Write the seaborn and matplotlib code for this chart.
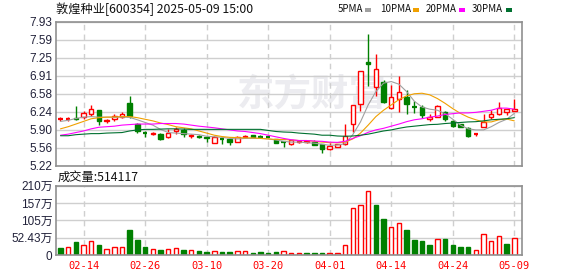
import numpy as np
import pandas as pd
import matplotlib
matplotlib.use("Agg")
import matplotlib.pyplot as plt
import seaborn as sns

# ---------------- data ----------------
dates = ["02-11", "02-12", "02-13", "02-14", "02-17", "02-18", "02-19", "02-20", "02-21", "02-24",
         "02-25", "02-26", "02-27", "02-28", "03-03", "03-04", "03-05", "03-06", "03-07", "03-10",
         "03-11", "03-12", "03-13", "03-14", "03-17", "03-18", "03-19", "03-20", "03-21", "03-24",
         "03-25", "03-26", "03-27", "03-28", "03-31", "04-01", "04-02", "04-03", "04-07", "04-08",
         "04-09", "04-10", "04-11", "04-14", "04-15", "04-16", "04-17", "04-18", "04-21", "04-22",
         "04-23", "04-24", "04-25", "04-28", "04-29", "04-30", "05-06", "05-07", "05-08", "05-09"]

opens = [6.09, 6.09, 6.12, 6.13, 6.18, 6.26, 6.05, 6.09, 6.13, 6.40,
         6.00, 5.835, 5.81, 5.82, 5.75, 5.86, 5.89, 5.77, 5.78, 5.76,
         5.65, 5.72, 5.71, 5.67, 5.75, 5.79, 5.77, 5.76, 5.71, 5.67,
         5.63, 5.66, 5.66, 5.66, 5.62, 5.53, 5.57, 5.62, 6.01, 6.38,
         7.17, 6.70, 6.80, 6.30, 6.48, 6.51, 6.33, 6.33, 6.09, 6.14,
         6.22, 6.06, 5.995, 5.93, 5.81, 5.95, 6.14, 6.18, 6.23, 6.25]
highs = [6.14, 6.13, 6.34, 6.25, 6.35, 6.26, 6.09, 6.18, 6.22, 6.53,
         6.02, 5.87, 5.85, 5.84, 5.91, 5.94, 5.93, 5.81, 5.80, 5.78,
         5.77, 5.76, 5.75, 5.78, 5.79, 5.80, 5.80, 5.78, 5.72, 5.69,
         5.70, 5.69, 5.69, 5.70, 5.62, 5.64, 5.62, 6.00, 6.36, 6.99,
         7.69, 7.31, 6.83, 6.735, 6.905, 6.64, 6.43, 6.36, 6.18, 6.35,
         6.24, 6.08, 6.00, 5.95, 5.83, 6.18, 6.26, 6.41, 6.28, 6.47]
lows = [6.06, 6.05, 6.08, 6.10, 6.16, 5.99, 6.02, 6.05, 6.11, 6.11,
        5.83, 5.75, 5.80, 5.70, 5.74, 5.82, 5.75, 5.74, 5.73, 5.67,
        5.64, 5.62, 5.60, 5.66, 5.74, 5.75, 5.73, 5.73, 5.65, 5.57,
        5.60, 5.64, 5.65, 5.60, 5.46, 5.52, 5.56, 5.61, 5.85, 6.245,
        6.72, 6.53, 6.40, 6.28, 6.22, 6.18, 6.20, 6.12, 6.06, 6.13,
        6.06, 5.95, 5.95, 5.75, 5.77, 5.94, 6.09, 6.17, 6.17, 6.24]
closes = [6.10, 6.10, 6.10, 6.21, 6.29, 6.05, 6.08, 6.16, 6.18, 6.15,
          5.86, 5.83, 5.84, 5.72, 5.83, 5.91, 5.82, 5.80, 5.75, 5.73,
          5.75, 5.71, 5.67, 5.75, 5.78, 5.76, 5.76, 5.75, 5.65, 5.66,
          5.70, 5.68, 5.68, 5.61, 5.53, 5.59, 5.62, 5.77, 6.35, 6.99,
          7.13, 7.04, 6.41, 6.50, 6.60, 6.37, 6.32, 6.17, 6.14, 6.34,
          6.095, 5.97, 5.95, 5.78, 5.82, 6.04, 6.18, 6.30, 6.28, 6.28]

ma5 = [6.05, 6.07, 6.105, 6.13, 6.14, 6.13, 6.13, 6.125, 6.13, 6.125,
       6.08, 6.03, 5.98, 5.90, 5.84, 5.83, 5.82, 5.81, 5.80, 5.77,
       5.76, 5.75, 5.73, 5.72, 5.73, 5.73, 5.73, 5.72, 5.70, 5.675,
       5.66, 5.66, 5.65, 5.64, 5.62, 5.60, 5.605, 5.63, 5.80, 6.04,
       6.36, 6.61, 6.77, 6.80, 6.75, 6.61, 6.43, 6.32, 6.28, 6.26,
       6.195, 6.09, 5.98, 5.91, 5.89, 5.89, 5.95, 6.03, 6.09, 6.20]
ma10 = [5.91, 5.95, 6.00, 6.05, 6.10, 6.12, 6.13, 6.135, 6.14, 6.14,
        6.12, 6.09, 6.06, 6.02, 5.99, 5.95, 5.93, 5.91, 5.87, 5.83,
        5.79, 5.765, 5.75, 5.745, 5.74, 5.74, 5.73, 5.72, 5.71, 5.71,
        5.70, 5.69, 5.69, 5.675, 5.66, 5.65, 5.65, 5.66, 5.72, 5.83,
        5.98, 6.14, 6.26, 6.36, 6.46, 6.53, 6.57, 6.58, 6.55, 6.48,
        6.39, 6.29, 6.20, 6.13, 6.08, 6.04, 6.04, 6.08, 6.095, 6.06]
ma20 = [5.79, 5.81, 5.84, 5.87, 5.91, 5.94, 5.95, 5.96, 5.98, 5.99,
        6.00, 6.00, 6.00, 6.01, 6.01, 6.01, 6.00, 5.98, 5.96, 5.945,
        5.93, 5.91, 5.89, 5.87, 5.86, 5.84, 5.82, 5.79, 5.76, 5.73,
        5.705, 5.69, 5.69, 5.68, 5.675, 5.66, 5.655, 5.675, 5.73, 5.78,
        5.845, 5.89, 5.92, 5.96, 6.00, 6.045, 6.08, 6.10, 6.13, 6.15,
        6.18, 6.195, 6.21, 6.21, 6.22, 6.24, 6.26, 6.30, 6.30, 6.28]
ma30 = [5.78, 5.78, 5.80, 5.81, 5.82, 5.82, 5.83, 5.835, 5.84, 5.87,
        5.89, 5.90, 5.90, 5.905, 5.91, 5.91, 5.905, 5.90, 5.90, 5.90,
        5.90, 5.90, 5.90, 5.90, 5.90, 5.90, 5.90, 5.88, 5.86, 5.85,
        5.845, 5.83, 5.82, 5.81, 5.79, 5.79, 5.775, 5.77, 5.775, 5.79,
        5.81, 5.84, 5.87, 5.89, 5.92, 5.945, 5.96, 5.975, 5.99, 5.995,
        6.01, 6.02, 6.03, 6.04, 6.045, 6.06, 6.08, 6.09, 6.10, 6.12]

# volume in 万 (10k lots)
volumes = [22, 24, 40, 30, 42, 30, 18, 23, 23, 76,
           45, 24, 17, 15, 18, 20, 15, 15, 12, 9,
           11, 9, 9, 11, 11, 6, 9, 6, 9, 11,
           7, 5, 5, 6, 6, 6, 6, 29, 141, 150,
           193, 152, 109, 84, 96, 76, 45, 42, 30, 47,
           48, 30, 24, 24, 14, 63, 42, 59, 33, 51.41]
vol_up = [0, 1, 0, 1, 1, 0, 1, 1, 1, 0,
          0, 0, 1, 0, 1, 1, 0, 1, 0, 0,
          1, 0, 0, 1, 1, 0, 0, 0, 0, 1,
          1, 1, 0, 0, 0, 1, 1, 1, 1, 1,
          1, 0, 0, 1, 1, 0, 0, 0, 0, 1,
          0, 0, 0, 0, 1, 1, 1, 1, 0, 1]

price_tick_labels = ["5.22", "5.56", "5.90", "6.24", "6.58", "6.91", "7.25", "7.59", "7.93"]
vol_tick_values = [0, 52.43, 104.86, 157.29, 209.72]
vol_tick_labels = ["0", "52.43万", "105万", "157万", "210万"]
date_tick_labels = ["02-14", "02-26", "03-10", "03-20", "04-01", "04-14", "04-24", "05-09"]

title = "敦煌种业[600354] 2025-05-09 15:00"
vol_title = "成交量:514117"
ma_names = ["5PMA", "10PMA", "20PMA", "30PMA"]

# ---------------- style ----------------
sns.set_theme(style="white")
plt.rcParams["font.family"] = ["Liberation Sans", "Noto Sans CJK SC", "DejaVu Sans"]

RED = "#ff0000"
GREEN = "#008000"
MA_COLORS = ["#a0a0a0", "#f0a000", "#ff00ff", "#007030"]
GRID = "#cfcfcf"
SPINE = "#909090"
TICKC = "#22223a"

W, H = 578, 276
fig = plt.figure(figsize=(W / 100, H / 100), dpi=100)
fig.patch.set_facecolor("white")
ax = fig.add_axes([56 / W, 1 - 165.5 / H, 466 / W, 144 / H])
axv = fig.add_axes([56 / W, 1 - 255 / H, 466 / W, 69.3 / H])

n = len(closes)
idx = np.arange(n)
xlim = (-0.585, 60.0)
tick_idx = [dates.index(d) for d in date_tick_labels]

price_lo, price_hi = float(price_tick_labels[0]), float(price_tick_labels[-1])
price_ticks = np.linspace(price_lo, price_hi, len(price_tick_labels))

# watermark
ax.text(0.55, 0.49, "东方财富", transform=ax.transAxes, fontsize=27, fontweight="bold",
        color="#ececf0", ha="center", va="center", family=["Noto Sans CJK SC"], zorder=0)

# ---------------- candles ----------------
bw = 0.58
o = np.array(opens); c = np.array(closes); h = np.array(highs); l = np.array(lows)
up = c >= o
body_lo = np.minimum(o, c)
body_hi = np.maximum(o, c)
for i in range(n):
    col = RED if up[i] else GREEN
    if body_hi[i] - body_lo[i] < 0.012:
        ax.vlines(i, l[i], h[i], color=col, lw=1.0, zorder=2)
        ax.hlines(body_lo[i], i - bw / 2, i + bw / 2, color=col, lw=1.6, zorder=2)
    else:
        ax.vlines(i, body_hi[i], h[i], color=col, lw=1.0, zorder=2)
        ax.vlines(i, l[i], body_lo[i], color=col, lw=1.0, zorder=2)
        ax.bar(i, body_hi[i] - body_lo[i], bottom=body_lo[i], width=bw,
               facecolor=("white" if up[i] else GREEN), edgecolor=col, linewidth=1.0, zorder=2)

ma_df = pd.DataFrame({"i": idx, "5PMA": ma5, "10PMA": ma10, "20PMA": ma20, "30PMA": ma30})
for name, colr in zip(ma_names, MA_COLORS):
    sns.lineplot(data=ma_df, x="i", y=name, ax=ax, color=colr, lw=0.8, legend=False, zorder=3)

ax.set_xlim(*xlim)
ax.set_ylim(price_lo, price_hi)
ax.set_yticks(price_ticks)
ax.set_yticklabels(price_tick_labels)
ax.set_xticks(tick_idx)
ax.set_xticklabels([])
ax.set_xlabel(""); ax.set_ylabel("")

# ---------------- volume ----------------
vu = np.array(vol_up).astype(bool)
axv.bar(idx[vu], np.array(volumes)[vu], width=bw, facecolor="white", edgecolor=RED, linewidth=1.0, zorder=2)
axv.bar(idx[~vu], np.array(volumes)[~vu], width=bw, facecolor=GREEN, edgecolor=GREEN, linewidth=1.0, zorder=2)
axv.set_xlim(*xlim)
axv.set_ylim(0, vol_tick_values[-1])
axv.set_yticks(vol_tick_values)
axv.set_yticklabels(vol_tick_labels)
axv.set_xticks(tick_idx)
axv.set_xticklabels(date_tick_labels, family=["DejaVu Sans Mono"], fontsize=7.5, color=RED)

for a in (ax, axv):
    a.yaxis.grid(True, color=GRID, lw=1.0, ls="-", zorder=0)
    a.xaxis.grid(True, color=GRID, lw=1.0, ls=(0, (4, 3)), zorder=0)
    a.set_axisbelow(True)
    for s in a.spines.values():
        s.set_color(SPINE)
        s.set_linewidth(1.2)
        s.set_visible(True)
    a.tick_params(axis="y", length=0, pad=2.5, labelsize=8.5, labelcolor=TICKC)
    a.tick_params(axis="x", length=0, pad=4.5)

# ---------------- texts ----------------
fig.text(56 / W, 1 - 9.5 / H, title, fontsize=8.8, family=["Noto Sans CJK SC"], color="#111111",
         ha="left", va="center")
fig.text(58 / W, 1 - 177 / H, vol_title, fontsize=8.8, family=["Noto Sans CJK SC"], color="#111111",
         ha="left", va="center")
leg_x = [338, 380, 426, 472]
sq_x = [368, 416, 462, 509]
for name, colr, tx, sx in zip(ma_names, MA_COLORS, leg_x, sq_x):
    fig.text(tx / W, 1 - 9.5 / H, name, fontsize=7, family=["Noto Sans CJK SC"], color="#111111",
             ha="left", va="center")
    fig.patches.append(plt.Rectangle(((sx - 3) / W, 1 - 11.5 / H), 6 / W, 4 / H,
                                     transform=fig.transFigure, facecolor=colr, edgecolor="none"))

fig.savefig("out.png", dpi=100, facecolor="white")
